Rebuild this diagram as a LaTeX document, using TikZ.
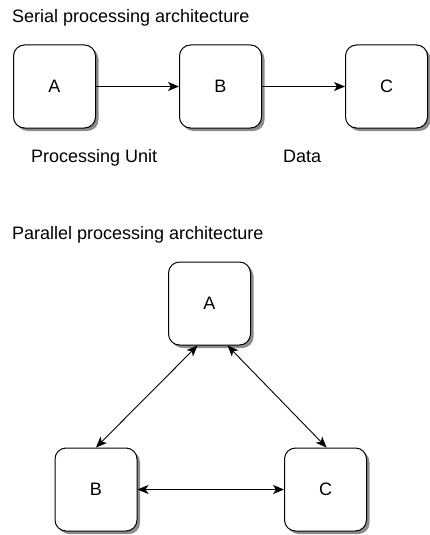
\documentclass[tikz,border=0pt]{standalone}
\usepackage{fontspec}
\setmainfont{Liberation Sans}
\usetikzlibrary{arrows.meta,shadows}
\begin{document}
\begin{tikzpicture}[x=1pt,y=-1pt,
  unit/.style={draw=black, line width=1pt, fill=white, rounded corners=11pt,
    minimum width=82pt, minimum height=83pt, inner sep=0pt,
    font=\fontsize{18}{22}\selectfont,
    drop shadow={shadow xshift=3pt, shadow yshift=-3pt, fill=black!45, opacity=1}},
  lbl/.style={font=\fontsize{18}{22}\selectfont, inner sep=0pt, anchor=base west},
  link/.style={line width=0.9pt, -{Stealth[length=11pt,width=9pt,inset=3pt]}},
  blink/.style={line width=0.9pt, {Stealth[length=11pt,width=9pt,inset=3pt]}-{Stealth[length=11pt,width=9pt,inset=3pt]}}]
\useasboundingbox (0,0) rectangle (430,535);
\node[lbl] (t1) at (12,23) {Serial processing architecture};
\node[unit] (sa) at (54.5,86.5) {A};
\node[unit] (sb) at (220.5,86.5) {B};
\node[unit] (sc) at (386.5,86.5) {C};
\draw[link] (sa) -- (sb);
\draw[link] (sb) -- (sc);
\node[lbl] (pu) at (31,162) {Processing Unit};
\node[lbl] (dt) at (283,162) {Data};
\node[lbl] (t2) at (12,239) {Parallel processing architecture};
\node[unit] (pa) at (209.5,303.5) {A};
\node[unit] (pb) at (96,489.5) {B};
\node[unit] (pc) at (325.5,489.5) {C};
\draw[blink] ([xshift=-12pt]pa.south) -- (pb.north);
\draw[blink] ([xshift=18pt]pa.south) -- ([xshift=1pt]pc.north);
\draw[blink] (pb) -- (pc);
\end{tikzpicture}
\end{document}
